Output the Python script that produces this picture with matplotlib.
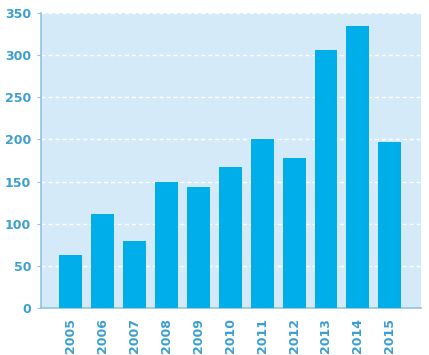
import numpy as np
import matplotlib.pyplot as plt

# data
years = ['2005', '2006', '2007', '2008', '2009', '2010',
         '2011', '2012', '2013', '2014', '2015']
counts = [63, 111, 79, 149, 143, 167, 200, 178, 306, 335, 197]
yticks = [0, 50, 100, 150, 200, 250, 300, 350]

txt_col = '#3b9fd0'
fig = plt.figure(figsize=(4.29, 3.55), dpi=100)
ax = fig.add_axes([41/429, 1 - 308/355, 380/429, 295/355])
ax.set_facecolor('#d5eaf9')

x = np.arange(len(years))
ax.bar(x, counts, width=0.72, color='#00aeea', zorder=3)

ax.set_xlim(-0.94, 10.98)
ax.set_ylim(0, 350)
ax.set_yticks(yticks)
ax.set_xticks(x)
ax.set_xticklabels(years, rotation=90)
ax.grid(axis='y', color='white', linestyle=(0, (3, 2)), linewidth=1, zorder=1)

for s in ['top', 'right']:
    ax.spines[s].set_visible(False)
for s in ['left', 'bottom']:
    ax.spines[s].set_color('#8fc3e3')
    ax.spines[s].set_linewidth(1.2)

ax.tick_params(axis='y', colors='#8fc3e3', labelcolor=txt_col, length=3,
               labelsize=9, pad=4)
ax.tick_params(axis='x', length=0, labelcolor=txt_col, labelsize=9, pad=7)
for lab in ax.get_xticklabels() + ax.get_yticklabels():
    lab.set_fontweight('bold')

plt.savefig('out.png', dpi=100)
